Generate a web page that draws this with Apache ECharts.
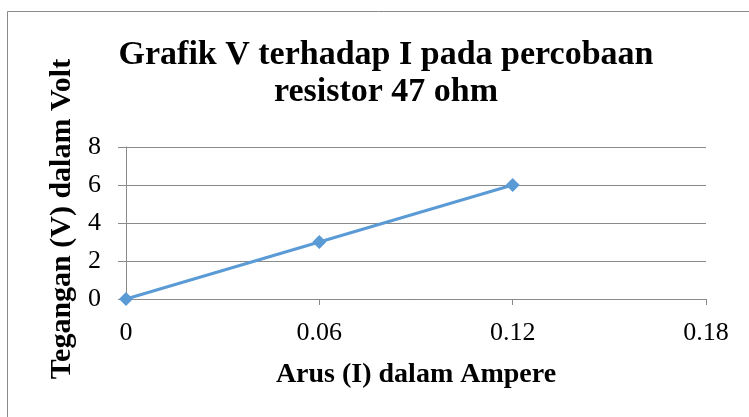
<!DOCTYPE html>
<html>
<head>
<meta charset="utf-8">
<script src="https://cdn.jsdelivr.net/npm/echarts@6/dist/echarts.min.js"></script>
<style>
  html, body { margin: 0; padding: 0; background: #fff; }
  #chart { width: 749px; height: 417px; }
</style>
</head>
<body>
<div id="chart"></div>
<script>
// data
var arus = [0, 0.06, 0.12]          // I (A)
var tegangan = [0, 3, 6]            // V (Volt)
var xTicks = [0, 0.06, 0.12, 0.18]
var yTicks = [0, 2, 4, 6, 8]

var serif = 'Liberation Serif, Times New Roman, serif'
var abu = '#8a8a8a'

var chart = echarts.init(document.getElementById('chart'))
chart.setOption({
  animation: false,
  title: {
    text: 'Grafik V terhadap I pada percobaan\nresistor 47 ohm',
    left: 381,
    top: 32,
    textAlign: 'center',
    textStyle: {
      fontFamily: serif,
      fontWeight: 'bold',
      fontSize: 34,
      lineHeight: 37,
      color: '#000'
    }
  },
  // bingkai grafik
  graphic: [{
    type: 'rect',
    shape: { x: 7.5, y: 11.5, width: 800, height: 500 },
    style: { fill: 'none', stroke: abu, lineWidth: 1 },
    silent: true
  }],
  grid: {
    left: 126,
    right: 43,
    top: 147,
    bottom: 118
  },
  xAxis: {
    type: 'value',
    min: xTicks[0],
    max: xTicks[xTicks.length - 1],
    interval: xTicks[1] - xTicks[0],
    name: 'Arus (I) dalam Ampere',
    nameLocation: 'middle',
    nameGap: 62,
    nameTextStyle: {
      fontFamily: serif,
      fontWeight: 'bold',
      fontSize: 28,
      color: '#000'
    },
    axisLine: { show: true, lineStyle: { color: abu, width: 1 } },
    axisTick: { show: true, length: 6, lineStyle: { color: abu } },
    splitLine: { show: false },
    axisLabel: {
      margin: 21,
      fontFamily: serif,
      fontSize: 26,
      color: '#000',
      formatter: function (v) { return String(+v.toFixed(2)) }
    }
  },
  yAxis: {
    type: 'value',
    min: yTicks[0],
    max: yTicks[yTicks.length - 1],
    interval: yTicks[1] - yTicks[0],
    name: 'Tegangan (V) dalam Volt',
    nameLocation: 'middle',
    nameGap: 48,
    nameTextStyle: {
      fontFamily: serif,
      fontWeight: 'bold',
      fontSize: 30,
      color: '#000',
      padding: [0, 0, 0, 8]
    },
    axisLine: { show: true, lineStyle: { color: abu, width: 1 } },
    axisTick: { show: true, length: 8, lineStyle: { color: abu } },
    splitLine: { show: true, lineStyle: { color: abu, width: 1 } },
    axisLabel: {
      margin: 25,
      fontFamily: serif,
      fontSize: 26,
      color: '#000'
    }
  },
  series: [{
    type: 'line',
    data: arus.map(function (x, i) { return [x, tegangan[i]] }),
    symbol: 'diamond',
    symbolSize: 14,
    showSymbol: true,
    lineStyle: { color: '#5b9bd5', width: 3 },
    itemStyle: { color: '#5b9bd5' }
  }]
})
</script>
</body>
</html>
